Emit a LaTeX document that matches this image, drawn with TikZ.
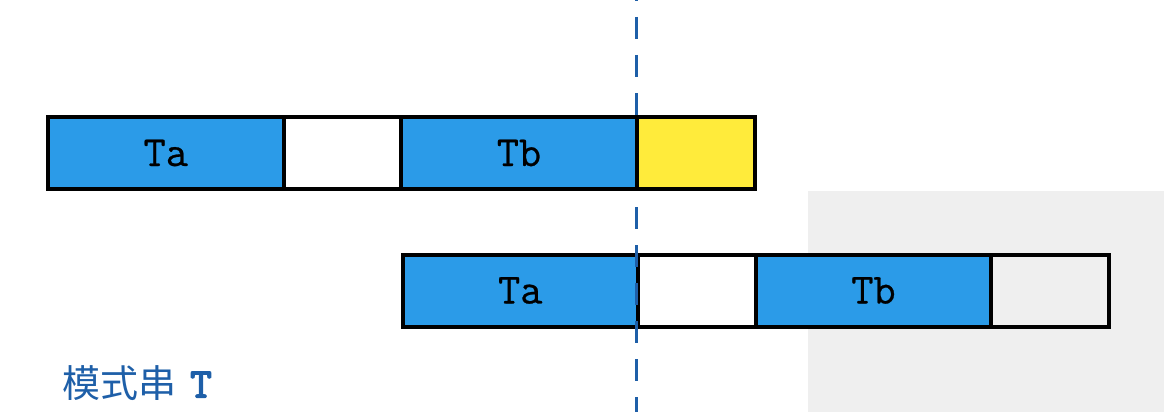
\documentclass[tikz,border=0pt]{standalone}
\usepackage{fontspec}
\newfontfamily\cjk{Noto Sans CJK SC}
\newfontfamily\cellfont[FakeBold=0.6]{Latin Modern Mono}
\newfontfamily\markfont[FakeBold=3.5]{Latin Modern Mono}
\usetikzlibrary{positioning}
\definecolor{cellblue}{HTML}{2B9BE8}
\definecolor{cellyellow}{HTML}{FFEB3B}
\definecolor{cutblue}{HTML}{1E5FA8}
\definecolor{bggray}{HTML}{EFEFEF}
\tikzset{
  cell/.style={draw=black, line width=4pt, minimum height=72pt,
    inner sep=0pt, outer sep=0pt,
    font=\cellfont\fontsize{43}{50}\selectfont},
  wide/.style={cell, minimum width=235.5pt},
  narrow/.style={cell, minimum width=117.75pt},
}

\begin{document}
\begin{tikzpicture}[x=1pt, y=-1pt, node distance=0pt]
    \useasboundingbox (0,0) rectangle (1164,412);
    % gray area
    \fill [bggray] (808,191) rectangle (1164,412);
    % second row (shifted pattern)
    \node[wide, fill=cellblue, anchor=west] (bot-ta) at (402.5,290.5) {Ta};
    \node[narrow, right=of bot-ta] (bot-gap) {};
    \node[wide, fill=cellblue, right=of bot-gap] (bot-tb) {Tb};
    \node[narrow, right=of bot-tb] (bot-rest) {};
    % cut line
    \coordinate (cut-top) at (636.5,0);
    \coordinate (cut-bot) at (636.5,412);
    \draw [cutblue, line width=3.5pt, dash pattern=on 22pt off 16pt, dash phase=21pt]
    (cut-top) -- (cut-bot);
    % first row
    \node[wide, fill=cellblue, anchor=west] (top-ta) at (48,153) {Ta};
    \node[narrow, fill=white, right=of top-ta] (top-gap) {};
    \node[wide, fill=cellblue, right=of top-gap] (top-tb) {Tb};
    \node[narrow, fill=cellyellow, right=of top-tb] (top-next) {};
    % label
    \node[anchor=west, text=cutblue, inner sep=0pt] (label) at (62,383)
    {\cjk\fontsize{38}{44}\selectfont 模式串\hspace{14pt}{\markfont\fontsize{42}{48}\selectfont T}};
\end{tikzpicture}
\end{document}
